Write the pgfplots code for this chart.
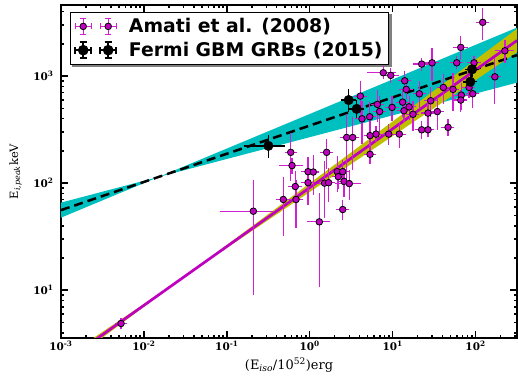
\documentclass[border=0pt]{standalone}
\usepackage{fontspec}
\usepackage{pgfplots}
\pgfplotsset{compat=1.18}
\usepackage{pgfplotstable}
\newfontfamily\legfont{DejaVu Sans}
\newfontfamily\dvs{DejaVu Serif}
\definecolor{mpm}{rgb}{0.75,0,0.75}
\definecolor{mpe}{rgb}{0.82,0.12,0.82}
\definecolor{mpc}{rgb}{0,0.75,0.75}
\definecolor{mpy}{rgb}{0.75,0.75,0}
\pgfdeclarelayer{background}
\pgfsetlayers{background,main}

\pgfplotstableread{
x y ex ey
0.0053 4.89 0.0004 0.3
0.209 54.7 0.12 45
0.480 70.4 0.05 36
0.684 70.4 0.07 30
1.306 43.5 0.3 32
2.50 56.7 0.25 8
0.590 194 0.05 83
0.612 146 0.15 15
0.670 93 0.07 30
0.954 128 0.1 35
1.105 127 0.1 45
0.954 101 0.1 35
1.51 100 0.15 50
1.60 194 0.15 49
1.69 101 0.17 30
2.15 128 0.2 40
2.50 128 0.25 25
2.21 115 0.2 20
2.59 104 0.25 25
3.00 99 0.8 25
2.79 267 0.3 150
3.30 267 0.3 125
5.34 278 0.5 115
6.31 287 0.6 30
8.97 287 0.9 45
12.05 287 1.2 60
22.4 315 2.2 40
26.7 315 2.7 25
46.6 332 4.5 40
5.34 186 0.5 25
4.08 650 0.4 200
7.72 1074 2.4 80
9.49 1015 1.5 100
14.0 903 1.4 150
22.4 1294 3 100
29.9 1330 3 380
59.3 1330 6 100
95.9 1330 10 120
66.3 1853 8 350
122 3175 12 850
226 1722 40 300
171 984 15 400
14.6 751 1.5 100
21.0 683 2 160
40.9 783 4 200
53.5 751 5 250
67.4 664 7 150
66.3 597 7 100
92.5 683 9 150
83.5 783 8 120
6.54 544 0.6 150
13.2 571 1.3 130
6.97 466 0.7 150
9.84 510 1 100
13.7 474 1.4 80
15.8 516 1.6 100
28.8 588 3 150
17.6 440 1.8 110
5.29 417 0.5 120
4.27 399 0.4 150
26.7 451 2.7 120
34.6 466 3.5 130
}\amati

\pgfplotstableread{
x y ex ey
0.317 223 0.14 37
2.95 597 0.3 100
3.69 494 0.4 60
90.7 1156 8 100
86.5 885 8 80
}\fermi

\newcommand{\amatiglyph}{%
  \draw[draw=mpe, line width=1.3bp, fill=none]
    (0bp,0bp) -- (16bp,0bp) (8bp,-8bp) -- (8bp,8bp)
    (0bp,-3bp) -- (0bp,3bp) (16bp,-3bp) -- (16bp,3bp)
    (5bp,-8bp) -- (11bp,-8bp) (5bp,8bp) -- (11bp,8bp)
    (25bp,0bp) -- (41bp,0bp) (33bp,-8bp) -- (33bp,8bp)
    (25bp,-3bp) -- (25bp,3bp) (41bp,-3bp) -- (41bp,3bp)
    (30bp,-8bp) -- (36bp,-8bp) (30bp,8bp) -- (36bp,8bp);
  \draw[fill=mpm, draw=black, line width=0.8bp] (8bp,0bp) circle[radius=3.3bp] (33bp,0bp) circle[radius=3.3bp];
}
\newcommand{\fermiglyph}{%
  \draw[draw=black, line width=1.5bp, fill=none]
    (0bp,0bp) -- (16bp,0bp) (8bp,-8bp) -- (8bp,8bp)
    (0bp,-3.5bp) -- (0bp,3.5bp) (16bp,-3.5bp) -- (16bp,3.5bp)
    (4.5bp,-8bp) -- (11.5bp,-8bp) (4.5bp,8bp) -- (11.5bp,8bp)
    (25bp,0bp) -- (41bp,0bp) (33bp,-8bp) -- (33bp,8bp)
    (25bp,-3.5bp) -- (25bp,3.5bp) (41bp,-3.5bp) -- (41bp,3.5bp)
    (29.5bp,-8bp) -- (36.5bp,-8bp) (29.5bp,8bp) -- (36.5bp,8bp);
  \fill[black] (8bp,0bp) circle[radius=4.8bp] (33bp,0bp) circle[radius=4.8bp];
}

\begin{document}
\begin{tikzpicture}
\begin{axis}[
  at={(0,0)}, anchor=south west,
  scale only axis, width=456bp, height=333bp,
  xmode=log, ymode=log,
  xmin=1e-3, xmax=316.2, ymin=3.58, ymax=4610,
  axis line style={line width=1.2bp},
  tick align=inside, xtick pos=both, ytick pos=both,
  major tick length=7bp, minor tick length=3.5bp,
  every tick/.style={black, line width=1.5bp},
  ticklabel style={font=\dvs\bfseries\fontsize{10.5}{12}\selectfont},
  xticklabel={\pgfmathtruncatemacro{\ex}{round(\tick/ln(10))}10\textsuperscript{\ex}},
  yticklabel={\pgfmathtruncatemacro{\ex}{round(\tick/ln(10))}10\textsuperscript{\ex}},
  yticklabel style={xshift=-4bp},
  xlabel={(E\textsubscript{\textit{iso}}/10\textsuperscript{52})erg},
  ylabel={E\textsubscript{\textit{i,peak}}keV},
  every axis x label/.style={at={(axis description cs:0.5,0)}, anchor=center, yshift=-27bp, font=\dvs\fontsize{13}{15}\selectfont},
  every axis y label/.style={at={(axis description cs:0,0.5)}, anchor=center, xshift=-45.5bp, rotate=90, font=\dvs\fontsize{11.5}{14}\selectfont},
  legend style={at={(axis description cs:0.0197,0.979)}, anchor=north west,
    draw=black, line width=1bp, fill=white,
    font=\legfont\bfseries\fontsize{18.9}{20}\selectfont,
    inner xsep=4bp, inner ysep=4bp, row sep=4bp,
    nodes={inner sep=2bp, text depth=0.15em},
    /tikz/every odd column/.append style={column sep=10bp},
    name=leg},
  legend cell align=left,
]
% cyan band (Fermi fit)
\addplot[fill=mpc, draw=none, forget plot] coordinates {(1e-3,47.6) (316.2,2836) (316.2,868) (1e-3,65.8)} -- cycle;
% yellow band (Amati fit)
\addplot[fill=mpy, draw=none, forget plot] coordinates {(1e-3,1.854) (316.2,2762) (316.2,1672) (1e-3,2.237)} -- cycle;
% dashed fit line
\addplot[black, line width=2.5bp, dash pattern=on 9bp off 5bp, forget plot] coordinates {(1e-3,55.98) (316.2,1569)};
% magenta fit line
\addplot[mpm, line width=2.7bp, forget plot] coordinates {(1e-3,2.037) (316.2,2149)};
% Amati data: error bars (with caps)
\addplot[mpe, only marks, mark=*, mark size=0bp, forget plot,
  error bars/.cd, x dir=both, x explicit, y dir=both, y explicit,
  error mark=-,
  error bar style={draw=mpe, color=mpe, line width=1.2bp},
  error mark options={draw=mpe, color=mpe, mark size=3bp, line width=1.2bp}]
  table[x=x, y=y, x error=ex, y error=ey] {\amati};
% Amati data: markers
\addplot[only marks, mark=*, mark size=3.3bp,
  mark options={fill=mpm, draw=black, line width=0.8bp},
  legend image code/.code={\amatiglyph}]
  table[x=x, y=y] {\amati};
\addlegendentry{Amati et al. (2008)}
% Fermi data
\addplot[black, only marks, mark=*, mark size=4.8bp,
  legend image code/.code={\fermiglyph},
  error bars/.cd, x dir=both, x explicit, y dir=both, y explicit,
  error bar style={draw=black, line width=1.5bp},
  error mark options={draw=black, mark size=3.5bp, line width=1.5bp}]
  table[x=x, y=y, x error=ex, y error=ey] {\fermi};
\addlegendentry{Fermi GBM GRBs (2015)}
\end{axis}
\begin{pgfonlayer}{background}
\fill[black!50] ([xshift=2.5bp,yshift=-2.5bp]leg.north west) rectangle ([xshift=2.5bp,yshift=-2.5bp]leg.south east);
\end{pgfonlayer}
\pgfresetboundingbox
\path[use as bounding box] (-61bp,-38bp) rectangle (457bp,338bp);
\end{tikzpicture}
\end{document}
